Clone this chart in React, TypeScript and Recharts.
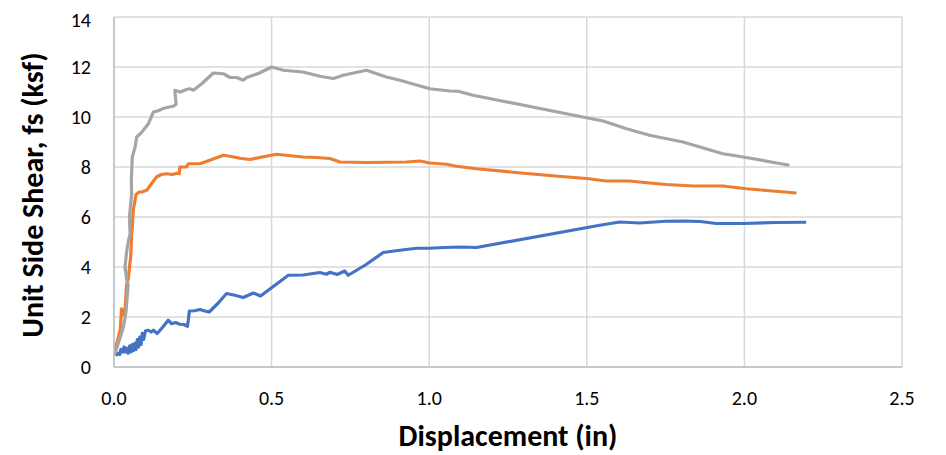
import { LineChart, Line, XAxis, YAxis, CartesianGrid } from "recharts"

const FONT = "Carlito, Lato, sans-serif"

const xTicks = [0, 0.5, 1.0, 1.5, 2.0, 2.5]
const yTicks = [0, 2, 4, 6, 8, 10, 12, 14]

// lowest curve
const blueDisp = [
  0.006, 0.012, 0.018, 0.022, 0.028, 0.032, 0.036, 0.04, 0.045, 0.05, 0.054, 0.058,
  0.062, 0.066, 0.07, 0.074, 0.078, 0.082, 0.086, 0.09, 0.094, 0.1, 0.109, 0.118,
  0.125, 0.137, 0.155, 0.172, 0.183, 0.195, 0.209, 0.222, 0.233, 0.236, 0.239, 0.255,
  0.273, 0.285, 0.302, 0.33, 0.357, 0.38, 0.41, 0.442, 0.465, 0.553, 0.6, 0.653,
  0.674, 0.685, 0.708, 0.732, 0.743, 0.8, 0.854, 0.907, 0.96, 1.0, 1.05, 1.1, 1.15,
  1.541, 1.604, 1.668, 1.75, 1.805, 1.86, 1.911, 1.996, 2.1, 2.196,
]
const blueShear = [
  0.45, 0.55, 0.5, 0.7, 0.6, 0.8, 0.6, 0.75, 0.55, 0.85, 0.6, 0.9,
  0.65, 0.95, 0.7, 1.1, 0.8, 1.2, 0.9, 1.35, 1.1, 1.45, 1.47, 1.4,
  1.47, 1.34, 1.6, 1.87, 1.73, 1.78, 1.71, 1.7, 1.63, 1.9, 2.24, 2.25,
  2.3, 2.25, 2.2, 2.55, 2.94, 2.88, 2.78, 2.96, 2.84, 3.67, 3.68, 3.78,
  3.71, 3.79, 3.7, 3.84, 3.67, 4.1, 4.58, 4.67, 4.75, 4.75, 4.78, 4.8, 4.78,
  5.67, 5.8, 5.76, 5.83, 5.84, 5.82, 5.74, 5.74, 5.78, 5.79,
]

// middle curve
const orangeDisp = [
  0.0, 0.01, 0.02, 0.024, 0.03, 0.035, 0.04, 0.045, 0.051, 0.053, 0.056, 0.058,
  0.061, 0.07, 0.08, 0.088, 0.104, 0.12, 0.135, 0.15, 0.167, 0.185, 0.2, 0.207,
  0.209, 0.23, 0.236, 0.273, 0.31, 0.347, 0.368, 0.4, 0.431, 0.47, 0.516, 0.56,
  0.6, 0.643, 0.685, 0.717, 0.8, 0.928, 0.97, 1.002, 1.055, 1.087, 1.15, 1.3,
  1.4, 1.499, 1.562, 1.636, 1.699, 1.752, 1.837, 1.932, 2.006, 2.08, 2.165,
]
const orangeShear = [
  0.6, 1.0, 1.5, 2.33, 2.1, 2.3, 3.3, 3.5, 4.2, 4.4, 5.3, 5.6,
  6.27, 6.9, 7.0, 7.0, 7.07, 7.35, 7.6, 7.7, 7.73, 7.7, 7.75, 7.73,
  8.0, 8.0, 8.13, 8.13, 8.3, 8.47, 8.43, 8.35, 8.3, 8.4, 8.51, 8.45,
  8.4, 8.38, 8.34, 8.2, 8.18, 8.2, 8.24, 8.16, 8.11, 8.03, 7.93, 7.75,
  7.64, 7.54, 7.44, 7.44, 7.36, 7.3, 7.24, 7.24, 7.13, 7.05, 6.96,
]

// upper curve
const grayDisp = [
  0.0, 0.01, 0.02, 0.03, 0.038, 0.045, 0.04, 0.035, 0.04, 0.045, 0.051, 0.049,
  0.052, 0.056, 0.055, 0.058, 0.067, 0.072, 0.085, 0.093, 0.109, 0.125, 0.14, 0.156,
  0.175, 0.188, 0.197, 0.193, 0.21, 0.23, 0.241, 0.252, 0.28, 0.315, 0.347, 0.368,
  0.389, 0.41, 0.421, 0.46, 0.5, 0.537, 0.6, 0.653, 0.696, 0.727, 0.801, 0.864,
  0.907, 1.002, 1.065, 1.092, 1.139, 1.499, 1.552, 1.626, 1.699, 1.805, 1.932, 1.996,
  2.143,
]
const grayShear = [
  0.45, 0.8, 1.2, 1.6, 2.2, 3.3, 3.5, 4.0, 4.6, 5.0, 5.33, 6.0,
  6.4, 6.9, 7.47, 8.4, 8.8, 9.2, 9.35, 9.47, 9.73, 10.2, 10.25, 10.34,
  10.4, 10.43, 10.51, 11.07, 11.0, 11.1, 11.13, 11.07, 11.35, 11.76, 11.73, 11.58,
  11.58, 11.47, 11.58, 11.75, 12.0, 11.87, 11.8, 11.63, 11.54, 11.67, 11.87, 11.6,
  11.47, 11.13, 11.04, 11.03, 10.87, 9.97, 9.84, 9.53, 9.27, 9.0, 8.53, 8.4,
  8.07,
]

const toPoints = (xs: number[], ys: number[]) => xs.map((x, i) => ({ x, y: ys[i] }))

const series = [
  { name: "Test 1", color: "#4472C4", data: toPoints(blueDisp, blueShear) },
  { name: "Test 2", color: "#ED7D31", data: toPoints(orangeDisp, orangeShear) },
  { name: "Test 3", color: "#A5A5A5", data: toPoints(grayDisp, grayShear) },
]

const tickStyle = { fontFamily: FONT, fontSize: 20, fill: "#000" }
const TITLE_SIZE = 30

export default function App() {
  return (
    <LineChart
      width={938}
      height={447}
      margin={{ top: 9, right: 44, bottom: 28, left: 10 }}
    >
      <CartesianGrid stroke="#d9d9d9" strokeWidth={1.5} />
      <XAxis
        type="number"
        dataKey="x"
        domain={[0, 2.5]}
        ticks={xTicks}
        tickFormatter={(v: number) => v.toFixed(1)}
        tick={tickStyle}
        tickLine={false}
        tickSize={0}
        tickMargin={24}
        height={60}
        stroke="#bfbfbf"
        strokeWidth={1.5}
        allowDataOverflow
        label={({ viewBox }: any) => (
          <text
            x={viewBox.x + viewBox.width / 2}
            y={viewBox.y + 79}
            textAnchor="middle"
            fontFamily={FONT}
            fontSize={TITLE_SIZE}
            fontWeight="bold"
            fill="#000"
          >
            Displacement (in)
          </text>
        )}
      />
      <YAxis
        type="number"
        dataKey="y"
        domain={[0, 14]}
        ticks={yTicks}
        tick={tickStyle}
        tickLine={false}
        tickSize={0}
        tickMargin={23}
        width={96}
        stroke="#bfbfbf"
        strokeWidth={1.5}
        label={({ viewBox }: any) => {
          const cx = viewBox.x + 14
          const cy = viewBox.y + viewBox.height / 2 + 3
          return (
            <text
              x={cx}
              y={cy}
              transform={`rotate(-90 ${cx} ${cy})`}
              textAnchor="middle"
              dominantBaseline="central"
              fontFamily={FONT}
              fontSize={TITLE_SIZE}
              fontWeight="bold"
              fill="#000"
            >
              Unit Side Shear, fs (ksf)
            </text>
          )
        }}
      />
      {series.map((s) => (
        <Line
          key={s.name}
          name={s.name}
          data={s.data}
          dataKey="y"
          type="linear"
          stroke={s.color}
          strokeWidth={3.2}
          strokeLinejoin="round"
          dot={false}
          activeDot={false}
          isAnimationActive={false}
        />
      ))}
    </LineChart>
  )
}
